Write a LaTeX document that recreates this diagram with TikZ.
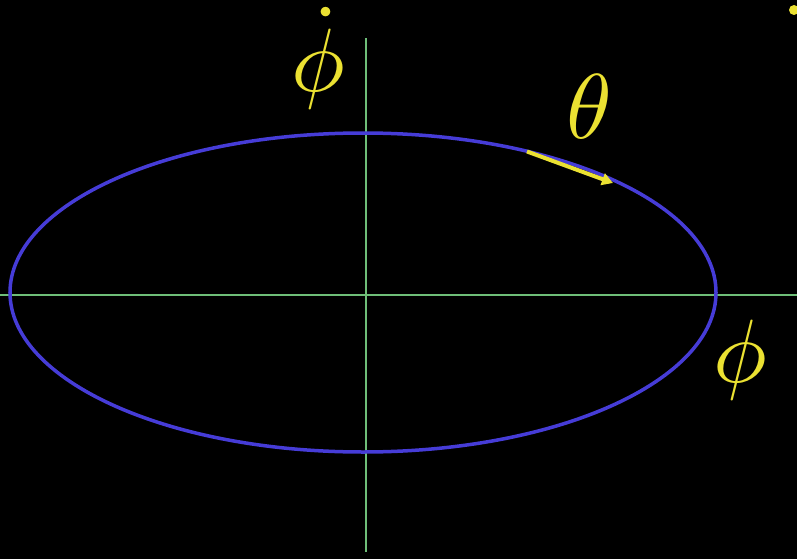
\documentclass[tikz,border=0pt]{standalone}
\usetikzlibrary{arrows.meta}
\definecolor{axisgreen}{RGB}{110,190,120}
\definecolor{ellblue}{RGB}{70,60,215}
\definecolor{labyellow}{RGB}{235,225,50}
\tikzset{
  axisline/.style={draw=axisgreen, line width=1.3pt},
  orbit/.style={draw=ellblue, line width=3.5pt},
  biglabel/.style={text=labyellow, inner sep=0pt},
  flowarrow/.style={draw=labyellow, line width=4pt, -{Triangle[length=11pt,width=12pt]}},
}
\begin{document}
\begin{tikzpicture}[x=1pt,y=-1pt]
\fill[black] (0,0) rectangle (797,559);
\useasboundingbox (0,0) rectangle (797,559);
% axes
\coordinate (xl) at (0,295);
\coordinate (xr) at (797,295);
\coordinate (yt) at (366,38);
\coordinate (yb) at (366,552);
\draw[axisline] (xl) -- (xr);
\draw[axisline] (yt) -- (yb);
% ellipse
\coordinate (c) at (363,292.5);
\draw[orbit] (c) ellipse [x radius=353, y radius=159.5];
% arrow
\coordinate (as) at (527,151.5);
\coordinate (ae) at (613,183);
\draw[flowarrow] (as) -- (ae);
% labels
\node[biglabel] (phidot) at (318,58) {\scalebox{9}{$\dot\phi$}};
\node[biglabel] (theta) at (589,107) {\scalebox{9.2}{$\theta$}};
\node[biglabel] (phi) at (740,360) {\scalebox{9}{$\phi$}};
\fill[labyellow] (794,10) circle (5);
\end{tikzpicture}
\end{document}
